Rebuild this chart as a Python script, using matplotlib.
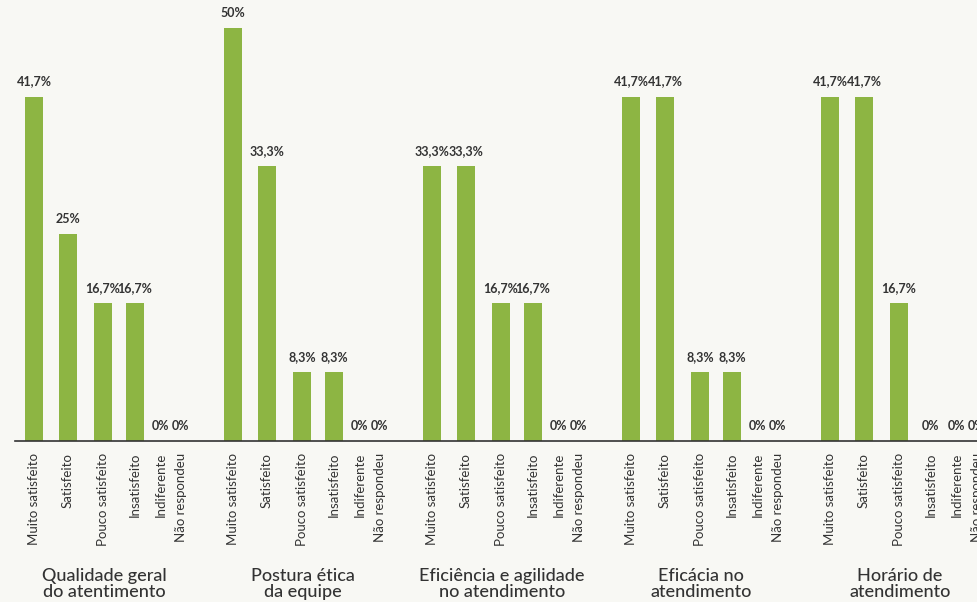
import numpy as np
import matplotlib.pyplot as plt

# dados
categorias = ["Muito satisfeito", "Satisfeito", "Pouco satisfeito",
              "Insatisfeito", "Indiferente", "Não respondeu"]
grupos = ["Qualidade geral\ndo atentimento", "Postura ética\nda equipe",
          "Eficiência e agilidade\nno atendimento", "Eficácia no\natendimento",
          "Horário de\natendimento"]
qualidade = [41.7, 25, 16.7, 16.7, 0, 0]
postura = [50, 33.3, 8.3, 8.3, 0, 0]
eficiencia = [33.3, 33.3, 16.7, 16.7, 0, 0]
eficacia = [41.7, 41.7, 8.3, 8.3, 0, 0]
horario = [41.7, 41.7, 16.7, 0, 0, 0]
valores = [qualidade, postura, eficiencia, eficacia, horario]

verde = "#8db543"
fundo = "#f8f8f4"
texto = "#333333"

# posições (em pixels da imagem original)
inicio = 34
passo_grupo = 199
desloc = np.array([0, 34, 69, 101, 127, 147])

def fmt(v):
    if float(v).is_integer():
        return f"{int(v)}%"
    return f"{v:.1f}".replace(".", ",") + "%"

fig = plt.figure(figsize=(9.78, 6.02), dpi=100, facecolor=fundo)
W, H = 978, 602
base_y = 441
ax = fig.add_axes([15 / W, (H - base_y) / H, (W - 15) / W, base_y / H])
ax.set_facecolor(fundo)
ax.set_xlim(15, 978)
ax.set_ylim(0, base_y / 8.26)

fonte = "Lato"
ticks_x = []
ticks_lab = []
for i, (nome, vals) in enumerate(zip(grupos, valores)):
    xs = inicio + passo_grupo * i + desloc
    ax.bar(xs, vals, width=18, color=verde, zorder=2)
    for x, v in zip(xs, vals):
        ax.annotate(fmt(v), (x, v), xytext=(0, 6.5), textcoords="offset points",
                    ha="center", va="bottom", fontsize=9, fontweight="bold",
                    color=texto, family=fonte, annotation_clip=False)
    ticks_x.extend(xs)
    ticks_lab.extend(categorias)
    ax.text(xs[0] + 70, -0.287, nome, transform=ax.get_xaxis_transform(),
            ha="center", va="top", fontsize=13, fontweight="medium",
            color=texto, family=fonte, linespacing=1.05)

ax.set_xticks(ticks_x)
ax.set_xticklabels(ticks_lab, rotation=90, fontsize=9.5, color=texto, family=fonte)
ax.tick_params(axis="x", length=0, pad=8.5)
ax.set_yticks([])
for lado in ["top", "right", "left"]:
    ax.spines[lado].set_visible(False)
ax.spines["bottom"].set_color(texto)
ax.spines["bottom"].set_linewidth(1.2)

plt.savefig("out.png", dpi=100, facecolor=fundo)
